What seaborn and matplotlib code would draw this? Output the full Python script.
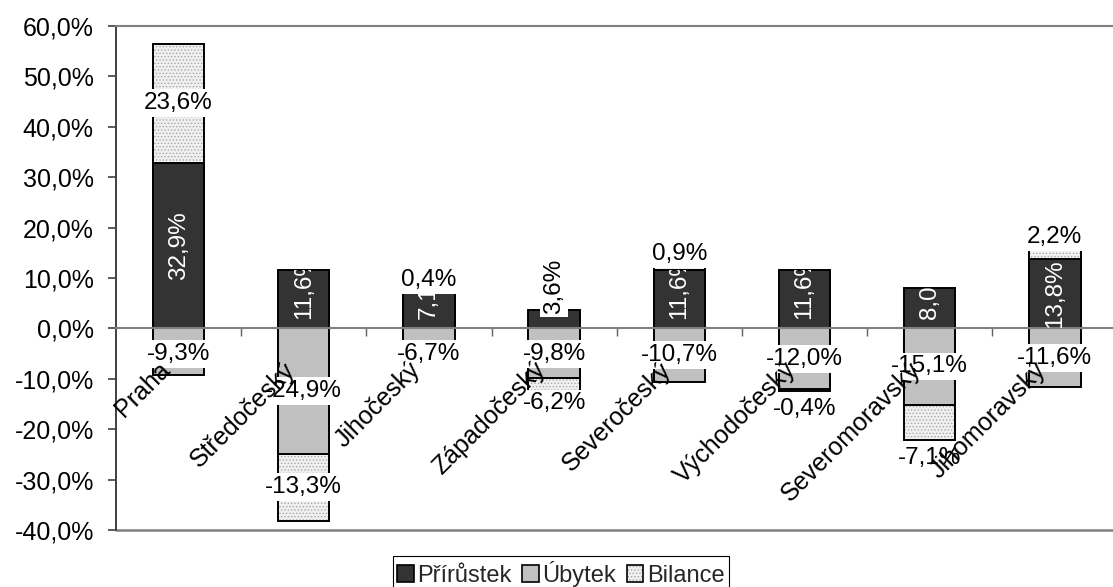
import matplotlib
matplotlib.use("Agg")
import matplotlib.pyplot as plt
from matplotlib.patches import Patch
from matplotlib.legend_handler import HandlerTuple
from matplotlib.ticker import FuncFormatter
import numpy as np
import pandas as pd
import seaborn as sns

# Regional change shares (%)
regions = ["Praha", "Středočeský", "Jihočeský", "Západočeský",
           "Severočeský", "Východočeský", "Severomoravský", "Jihomoravský"]
prirustek = [32.9, 11.6, 7.1, 3.6, 11.6, 11.6, 8.0, 13.8]
ubytek = [-9.3, -24.9, -6.7, -9.8, -10.7, -12.0, -15.1, -11.6]
bilance = [23.6, -13.3, 0.4, -6.2, 0.9, -0.4, -7.1, 2.2]
series_names = ["Přírůstek", "Úbytek", "Bilance"]
y_ticks = [-40, -30, -20, -10, 0, 10, 20, 30, 40, 50, 60]

# where each balance label sits: on the segment, near its end, or past its end
bilance_label_mode = ["center", "center", "out", "end", "out", "out", "out", "out"]

sns.set_style("white")
plt.rcParams["font.family"] = ["Liberation Sans", "DejaVu Sans"]
plt.rcParams["hatch.linewidth"] = 0.6

FS_TICK = 18
FS_LAB = 17.5
FS_CAT = 18
FS_LEG = 17
C_P = "#333333"
C_U = "#C0C0C0"
C_B = "#F0F0F0"
C_DOT = "#A8A8A8"
HATCH = "....."
EDGE_LW = 1.4

def pct(v):
    return f"{v:.1f}%".replace(".", ",")

df = pd.DataFrame({"kraj": regions, "P": prirustek, "U": ubytek, "B": bilance})
df["B_end"] = np.where(df["B"] >= 0, df["P"] + df["B"], df["U"] + df["B"])

fig = plt.figure(figsize=(11.13, 5.87), dpi=100)
ax = fig.add_axes([0.1042, 0.0971, 0.8998, 0.8586])

common = dict(data=df, x="kraj", order=regions, width=0.41, saturation=1,
              errorbar=None, ax=ax)
# balance segment (drawn full length, then covered by the other two series)
sns.barplot(y="B_end", color=C_B, edgecolor=C_DOT, linewidth=0, hatch=HATCH, **common)
sns.barplot(y="B_end", fill=False, color="black", linewidth=EDGE_LW, **common)
sns.barplot(y="P", color=C_P, edgecolor="black", linewidth=EDGE_LW, **common)
sns.barplot(y="U", color=C_U, edgecolor="black", linewidth=EDGE_LW, **common)

p_bars = ax.containers[2]

ax.set_xlim(-0.5, len(regions) - 0.5)
ax.set_ylim(-40, 60)
ax.set_xlabel("")
ax.set_ylabel("")

ax.set_yticks(y_ticks)
ax.yaxis.set_major_formatter(FuncFormatter(lambda v, _: pct(v)))
ax.set_xticks(np.arange(0.5, len(regions) - 0.5, 1.0))
ax.set_xticklabels([])

ax.tick_params(axis="y", left=True, direction="out", length=6, width=1.2,
               color="#404040", labelsize=FS_TICK, pad=10, labelcolor="black")
ax.tick_params(axis="x", bottom=True, direction="out", length=6, width=1.0,
               color="#606060", labelbottom=False)

ax.spines["bottom"].set_position(("data", 0))
ax.spines["bottom"].set_color("#808080")
ax.spines["bottom"].set_linewidth(1.5)
ax.spines["left"].set_color("#404040")
ax.spines["left"].set_linewidth(1.4)
ax.spines["top"].set_color("#808080")
ax.spines["top"].set_linewidth(1.5)
ax.spines["right"].set_visible(False)
ax.axhline(-40, color="#808080", lw=1.8, clip_on=False, zorder=1)

box = dict(boxstyle="square,pad=0.12", fc="white", ec="none")

def put(x, y, text, color="black", rot=0, bbox=True, va="center", dy=0, clip=None):
    t = ax.annotate(text, xy=(x, y), xytext=(0, dy), textcoords="offset points",
                    ha="center", va=va, rotation=rot, color=color, fontsize=FS_LAB,
                    bbox=box if bbox else None, zorder=6, annotation_clip=False)
    if clip is not None:
        t.set_clip_path(clip)
    return t

fig.canvas.draw()
renderer = fig.canvas.get_renderer()
px_per_unit = abs(ax.transData.transform((0, 1))[1] - ax.transData.transform((0, 0))[1])

for i in range(len(regions)):
    p, u, b = prirustek[i], ubytek[i], bilance[i]
    # growth labels, rotated white text inside the dark segment
    if p < 5:
        put(i, p, pct(p), rot=90, va="bottom", dy=-3)
    else:
        t = put(i, p / 2, pct(p), color="white", rot=90, bbox=False, clip=p_bars[i])
        if t.get_window_extent(renderer).height > p * px_per_unit:
            # too long for the segment: start it just above the base
            t.xy = (i, 0)
            t.set_va("bottom")
            t.xyann = (0, 7)
    # loss labels, kept clear of the zero line
    put(i, min(u / 2, -5.0), pct(u))
    # balance labels
    if b >= 0:
        start, end = p, p + b
    else:
        start, end = u, u + b
    mode = bilance_label_mode[i]
    if mode == "center":
        put(i, (start + end) / 2, pct(b))
    elif mode == "end":
        put(i, end, pct(b), dy=4 if b < 0 else -4)
    elif b >= 0:
        put(i, end, pct(b), va="bottom", dy=0)
    else:
        put(i, end, pct(b), va="top", dy=-5)

# category names hanging below the zero line
for i, name in enumerate(regions):
    ax.annotate(name, xy=(i, 0), xytext=(-15, -21), textcoords="offset points",
                rotation=45, rotation_mode="anchor", ha="right", va="top",
                fontsize=FS_CAT, color="black", zorder=10, annotation_clip=False)

handles = [
    Patch(fc=C_P, ec="black", lw=1.2),
    Patch(fc=C_U, ec="black", lw=1.2),
    (Patch(fc=C_B, ec=C_DOT, lw=0, hatch=HATCH), Patch(fc="none", ec="black", lw=1.2)),
]
leg = fig.legend(handles, series_names,
                 handler_map={tuple: HandlerTuple(ndivide=1, pad=0)},
                 loc="upper center", bbox_to_anchor=(0.504, 0.053), ncol=3,
                 frameon=True, fancybox=False, edgecolor="black", framealpha=1,
                 fontsize=FS_LEG, handlelength=0.7, handleheight=0.7,
                 handletextpad=0.15, columnspacing=0.45, borderpad=0.2,
                 borderaxespad=0)
leg.get_frame().set_linewidth(0.8)

fig.savefig("out.png", dpi=100)
